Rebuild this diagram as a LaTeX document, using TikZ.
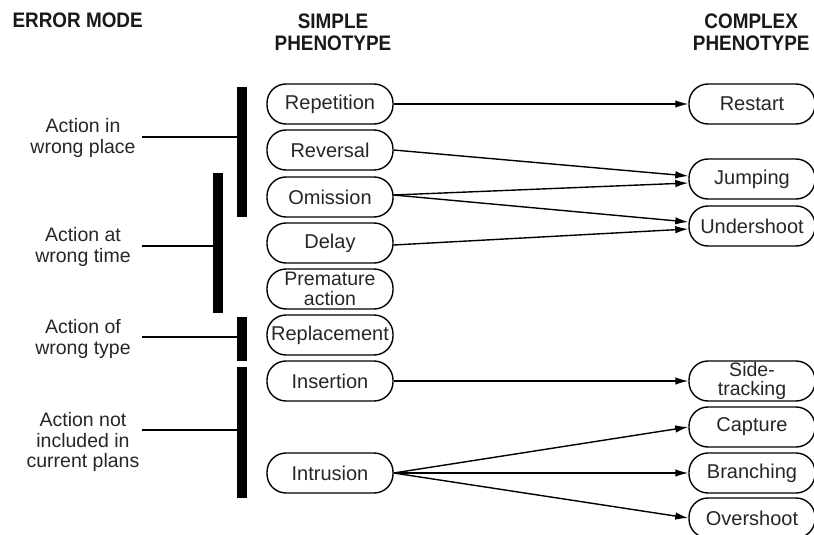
\documentclass[tikz,border=0pt]{standalone}
\usepackage{fontspec}
\setmainfont{Liberation Sans}
\newfontfamily\hdrfont[FakeStretch=0.9]{Liberation Sans}
\usetikzlibrary{arrows.meta}
\tikzset{
  box/.style={draw=black, line width=1.4pt, rounded corners=19pt, minimum width=126pt, minimum height=40pt, inner sep=0pt, align=center, text=black!85, font=\fontsize{20}{19}\selectfont},
  lbl/.style={align=center, text=black!85, font=\fontsize{19.5}{20.5}\selectfont},
  hdr/.style={align=center, text=black!90, font=\hdrfont\bfseries\fontsize{21}{22}\selectfont},
  bar/.style={fill=black, draw=none},
  arr/.style={line width=1.4pt, -{Latex[length=13pt,width=7.5pt]}},
  ln/.style={line width=1.3pt}
}
\begin{document}
\begin{tikzpicture}[x=1pt,y=-1pt]
\useasboundingbox (0,0) rectangle (814,535);
% headers
\node[hdr, anchor=west] (h1) at (9,20) {ERROR MODE};
\node[hdr] (h2) at (333,32) {SIMPLE\\PHENOTYPE};
\node[hdr, anchor=east] (h3) at (813,32) {COMPLEX\\PHENOTYPE};
% simple phenotype
\node[box] (rep) at (330,104) {Repetition};
\node[box] (rev) at (330,150) {Reversal};
\node[box] (omi) at (330,197) {Omission};
\node[box] (del) at (330,243) {Delay};
\node[box, font=\fontsize{19.5}{19.5}\selectfont] (pre) at (330,289) {Premature\\action};
\node[box] (repl) at (330,335) {Replacement};
\node[box] (ins) at (330,381) {Insertion};
\node[box] (intr) at (330,473) {Intrusion};
% complex phenotype
\node[box] (rst) at (752,104) {Restart};
\node[box] (jmp) at (752,179) {Jumping};
\node[box] (und) at (752,226) {Undershoot};
\node[box, font=\fontsize{19.5}{19.5}\selectfont] (side) at (752,381) {Side-\\tracking};
\node[box] (cap) at (752,427) {Capture};
\node[box] (bra) at (752,473) {Branching};
\node[box] (ove) at (752,518) {Overshoot};
% bars
\path[bar] (237,87) rectangle (247,217);
\path[bar] (213,173) rectangle (223,313);
\path[bar] (237,317) rectangle (247,361);
\path[bar] (237,367) rectangle (247,498);
\coordinate (b1w) at (237,137);
\coordinate (b2w) at (213,246);
\coordinate (b3w) at (237,337);
\coordinate (b4w) at (237,430);
% error mode labels
\node[lbl] (l1) at (83,138) {Action in\\wrong place};
\node[lbl] (l2) at (83,247) {Action at\\wrong time};
\node[lbl] (l3) at (83,339) {Action of\\wrong type};
\node[lbl] (l4) at (83,442) {Action not\\included in\\current plans};
\coordinate (l1e) at (142,137);
\coordinate (l2e) at (142,246);
\coordinate (l3e) at (142,337);
\coordinate (l4e) at (142,430);
\draw[ln] (l1e) -- (b1w);
\draw[ln] (l2e) -- (b2w);
\draw[ln] (l3e) -- (b3w);
\draw[ln] (l4e) -- (b4w);
% arrows
\draw[arr] (rep.east) -- (rst.west);
\draw[arr] (rev.east) -- ([yshift=3pt]jmp.west);
\draw[arr] ([yshift=2pt]omi.east) -- ([yshift=-4pt]jmp.west);
\draw[arr] ([yshift=2pt]omi.east) -- ([yshift=4pt]und.west);
\draw[arr] ([yshift=-2pt]del.east) -- ([yshift=-3pt]und.west);
\draw[arr] (ins.east) -- (side.west);
\draw[arr] (intr.east) -- (cap.west);
\draw[arr] (intr.east) -- (bra.west);
\draw[arr] (intr.east) -- (ove.west);
\end{tikzpicture}
\end{document}
